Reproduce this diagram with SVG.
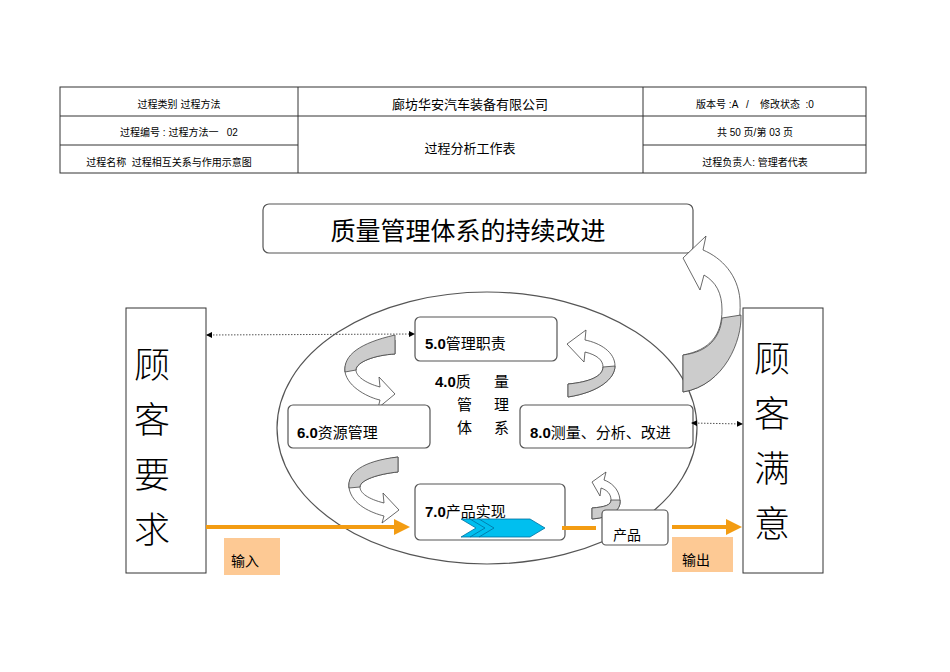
<svg xmlns="http://www.w3.org/2000/svg" width="950" height="672" viewBox="0 0 950 672">
<style>
text{font-family:"Liberation Sans","Noto Sans CJK SC",sans-serif;fill:#000}
.t{font-size:10px;text-anchor:middle}
.box{fill:#fff;stroke:#555;stroke-width:1.2}
.lbl{font-size:15px}
.big{font-size:36px;font-family:"Noto Sans CJK SC",sans-serif;font-weight:300}
.rib{fill:#ccc;stroke:#444;stroke-width:0.8}
.rw{fill:#fff;stroke:#444;stroke-width:0.8}
</style>
<defs>
<marker id="ah" markerWidth="6" markerHeight="6" refX="5" refY="3" orient="auto-start-reverse"><path d="M0,0 L6,3 L0,6 Z" fill="#000"/></marker>
<marker id="oa" markerWidth="4" markerHeight="4" refX="2" refY="2" orient="auto"><path d="M0,0 L4,2 L0,4 Z" fill="#f39c12"/></marker>
</defs>
<g id="table" fill="none" stroke="#333" stroke-width="1">
<rect x="60" y="87" width="806" height="86"/>
<line x1="298" y1="87" x2="298" y2="173"/><line x1="643" y1="87" x2="643" y2="173"/>
<line x1="60" y1="116" x2="866" y2="116"/><line x1="60" y1="145" x2="298" y2="145"/><line x1="643" y1="145" x2="866" y2="145"/>
</g>
<g id="table-text">
<text class="t" x="179" y="108">过程类别  过程方法</text>
<text class="t" x="470" y="109" style="font-size:13px">廊坊华安汽车装备有限公司</text>
<text class="t" x="755" y="108" xml:space="preserve">版本号 :A   /    修改状态  :0</text>
<text class="t" x="179" y="136" xml:space="preserve">过程编号 : 过程方法一   02</text>
<text class="t" x="470" y="153" style="font-size:13px">过程分析工作表</text>
<text class="t" x="755" y="136">共 50 页/第 03 页</text>
<text class="t" x="169" y="166" xml:space="preserve">过程名称  过程相互关系与作用示意图</text>
<text class="t" x="755" y="166">过程负责人: 管理者代表</text>
</g>
<g id="ellipse"><ellipse cx="487" cy="428" rx="210" ry="136" fill="none" stroke="#555" stroke-width="1.2"/></g>
<g id="title"><rect class="box" x="263" y="204" width="430" height="49" rx="6"/><text x="468" y="240" style="font-size:25px" text-anchor="middle">质量管理体系的持续改进</text></g>
<g id="left"><rect x="126" y="308" width="80" height="265" fill="#fff" stroke="#333"/>
<text class="big" x="134" y="378">顾</text><text class="big" x="134" y="433">客</text><text class="big" x="134" y="488">要</text><text class="big" x="134" y="543">求</text></g>
<g id="right"><rect x="743" y="308" width="80" height="265" fill="#fff" stroke="#333"/>
<text class="big" x="754" y="372">顾</text><text class="big" x="754" y="427">客</text><text class="big" x="754" y="482">满</text><text class="big" x="754" y="537">意</text></g>
<g id="curved-arrows">
<path class="rw" d="M683,392 C725,385 742,340 740,300 C738,275 722,258 703,250 L706,236 L683,258 L700,290 L704,275 C716,282 722,293 722,310 C722,335 710,350 683,355 Z"/>
<path class="rib" d="M683,392 C725,385 742,340 741,315 L722,318 C720,338 708,352 683,355 Z"/>
<path class="rw" d="M395,340 C360,345 343,358 345,372 C348,388 370,398 380,400 L378,408 L395,394 L379,377 L380,387 C365,383 356,376 356,370 C356,362 375,355 395,354 Z"/>
<path class="rib" d="M395,335 L395,354 C375,355 356,362 356,370 L345,372 C343,355 360,343 395,335 Z"/>
<path class="rw" d="M398,457 C362,462 347,475 349,488 C352,505 372,513 384,516 L382,523 L399,510 L383,493 L384,503 C368,499 360,493 360,487 C360,480 378,474 398,472 Z"/>
<path class="rib" d="M398,457 L398,472 C378,474 360,480 360,487 L349,488 C347,473 362,461 398,457 Z"/>
<path class="rw" d="M568,397 C600,392 615,378 615,366 C615,352 600,343 585,340 L586,330 L567,344 L584,362 L585,352 C597,355 603,360 603,367 C603,376 590,382 568,384 Z"/>
<path class="rib" d="M568,397 C600,392 615,378 615,366 L603,367 C603,376 590,382 568,384 Z"/>
<path class="rw" d="M592,519 C615,517 621,508 620,500 C619,488 610,482 604,480 L606,472 L592,482 L600,496 L601,488 C607,490 611,494 611,500 C611,505 605,507 592,508 Z"/>
<path class="rib" d="M592,519 C615,517 621,508 620,500 L611,500 C611,505 605,507 592,508 Z"/>
</g>
<g id="nodes">
<g id="n5"><rect class="box" x="415" y="317" width="142" height="44" rx="5"/><text class="lbl" x="425" y="349"><tspan font-weight="bold">5.0</tspan>管理职责</text></g>
<g id="n6"><rect class="box" x="288" y="405" width="142" height="43" rx="5"/><text class="lbl" x="297" y="438"><tspan font-weight="bold">6.0</tspan>资源管理</text></g>
<g id="n8"><rect class="box" x="520" y="405" width="173" height="43" rx="5"/><text class="lbl" x="530" y="438"><tspan font-weight="bold">8.0</tspan>测量、分析、改进</text></g>
<g id="n7"><rect class="box" x="415" y="484" width="150" height="56" rx="5"/><text class="lbl" x="425" y="517"><tspan font-weight="bold">7.0</tspan>产品实现</text>
<polygon points="461,537 476,528 461,519 530,519 545,528 530,537" fill="#00bfef" stroke="#0070a0" stroke-width="0.8"/>
<polyline points="470,537 485,528 470,519" fill="none" stroke="#0070a0" stroke-width="0.8"/>
<polyline points="479,537 494,528 479,519" fill="none" stroke="#0070a0" stroke-width="0.8"/></g>
<g id="n4"><text class="lbl" x="435" y="387"><tspan font-weight="bold">4.0</tspan>质</text><text class="lbl" x="494" y="387">量</text>
<text class="lbl" x="457" y="410">管</text><text class="lbl" x="494" y="410">理</text><text class="lbl" x="457" y="433">体</text><text class="lbl" x="494" y="433">系</text></g>
<g id="product"><rect class="box" x="602" y="510" width="66" height="35" rx="4"/><text x="613" y="540" style="font-size:14px">产品</text></g>
<g id="in"><rect x="224" y="538" width="56" height="37" fill="#fdc994"/><text x="231" y="566" style="font-size:14px">输入</text></g>
<g id="out"><rect x="672" y="537" width="61" height="35" fill="#fdc994"/><text x="682" y="565" style="font-size:14px">输出</text></g>
</g>
<g id="connectors">
<line x1="206" y1="527" x2="402" y2="527" stroke="#f39c12" stroke-width="4" marker-end="url(#oa)"/>
<line x1="562" y1="528" x2="596" y2="528" stroke="#f39c12" stroke-width="4"/>
<line x1="672" y1="527" x2="734" y2="527" stroke="#f39c12" stroke-width="4" marker-end="url(#oa)"/>
<line x1="207" y1="335" x2="414" y2="334" stroke="#555" stroke-dasharray="1.5,1.5" marker-start="url(#ah)" marker-end="url(#ah)"/>
<line x1="692" y1="423" x2="742" y2="424" stroke="#555" stroke-dasharray="1.5,1.5" marker-start="url(#ah)" marker-end="url(#ah)"/>
</g>
</svg>
